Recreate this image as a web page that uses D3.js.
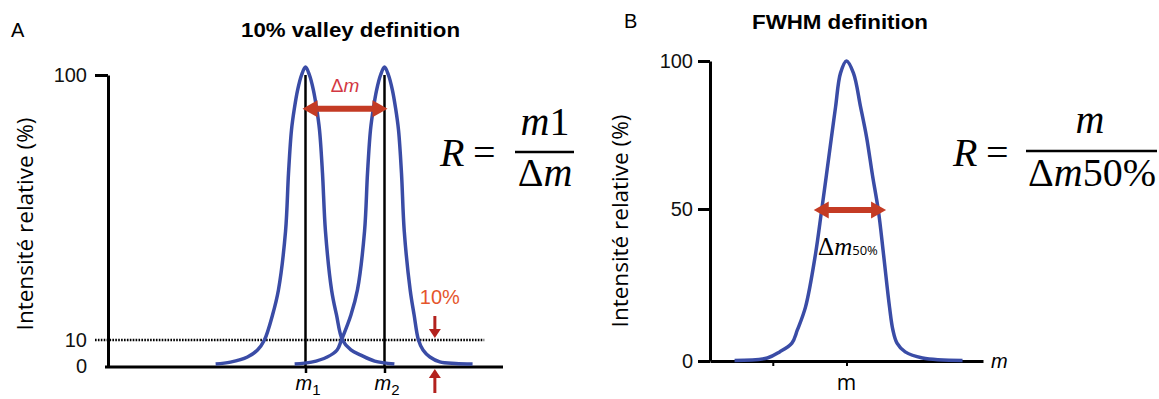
<!DOCTYPE html>
<html><head><meta charset="utf-8">
<script src="https://cdn.jsdelivr.net/npm/d3@7"></script>
<style>body{margin:0;background:#fff} svg{display:block}</style>
</head><body>
<svg id="c" width="1159" height="399"></svg>
<script>
// ---------------- DATA ----------------
// Panel A: two neighbouring peaks (x in mass units, y in relative intensity %)
const peak1 = [[5.45,1.1],[6.2,1.8],[7.06,3.7],[7.57,6.3],[7.92,10],[8.33,18.5],[8.63,27],[8.99,47],[9.14,66.7],[9.29,81.3],[9.44,88.8],[9.6,94.9],[9.8,100],[10,102.7],[10.2,100],[10.4,94.9],[10.56,88.8],[10.71,81.3],[10.86,66.7],[11.01,47],[11.32,27],[11.57,18.5],[11.87,10],[12.3,6.3],[12.8,4.4],[13.5,2.2],[14.5,1.1]];
const peak2 = [[9.45,1.1],[10.3,1.8],[11.1,3.7],[11.6,6.3],[11.82,10],[12.3,18.5],[12.63,27],[12.99,47],[13.14,66.7],[13.29,81.3],[13.44,88.8],[13.6,94.9],[13.8,100],[14,102.7],[14.2,100],[14.4,94.9],[14.56,88.8],[14.71,81.3],[14.86,66.7],[15.0,47],[15.3,27],[15.5,18.5],[15.72,10],[15.95,6.3],[16.3,3.7],[16.8,1.9],[17.6,1.3],[18.46,1.1]];
const massesA = [10, 14];
const massSubs = ["1", "2"];
const yTicksA = [0, 10, 100];
const valleyLevel = 10;
// Panel B: single peak
const peakB = [[1.8,0.2],[4.2,1.0],[5.1,3.0],[6.0,5.9],[6.4,10.2],[7.0,17.8],[7.73,35.2],[8.17,49.3],[8.53,61.5],[8.9,74.3],[9.2,84.5],[9.56,95.9],[10,100],[10.51,95.9],[11.03,84.5],[11.47,74.3],[11.9,61.5],[12.34,49.3],[12.71,35.2],[13.15,17.8],[13.4,10.2],[13.7,5.9],[14.3,3.0],[15.57,1.0],[18.5,0.2]];
const yTicksB = [0, 50, 100];
const xTicksB = [4.6, 10];
const centerB = 10;
const halfLevel = 50;

// ---------------- DRAW ----------------
const svg = d3.select("#c");
const BLUE = "#3a4ca6", RED = "#c43b24", DARKRED = "#b3221e";

function dblArrow(g, x1, x2, y, color, shaft, headL, headH) {
  const s = shaft / 2, h = headH / 2;
  const p = `M${x1},${y} L${x1+headL},${y-h} L${x1+headL},${y-s} L${x2-headL},${y-s} L${x2-headL},${y-h} L${x2},${y} L${x2-headL},${y+h} L${x2-headL},${y+s} L${x1+headL},${y+s} L${x1+headL},${y+h} Z`;
  g.append("path").attr("d", p).attr("fill", color);
}
function vArrow(g, x, yTail, yHead, color) {
  const dir = yHead > yTail ? 1 : -1;
  const hl = 9, hw = 6;
  g.append("line").attr("x1", x).attr("x2", x).attr("y1", yTail).attr("y2", yHead - dir*hl)
    .attr("stroke", color).attr("stroke-width", 3);
  g.append("path").attr("d", `M${x-hw},${yHead-dir*hl} L${x+hw},${yHead-dir*hl} L${x},${yHead} Z`).attr("fill", color);
}

// ===== Panel A =====
const xA = d3.scaleLinear().domain([0, 20]).range([108, 503]);
const yA = d3.scaleLinear().domain([0, 10, 100]).range([367, 340, 75]);
const gA = svg.append("g");

gA.append("text").attr("x", 11).attr("y", 37).attr("font-family", "Liberation Sans, Arial").attr("font-size", 20).text("A");
gA.append("text").attr("x", 241).attr("y", 37).attr("font-family", "Liberation Sans, Arial")
  .attr("font-weight", "bold").attr("font-size", 20).attr("textLength", 219).attr("lengthAdjust", "spacingAndGlyphs").text("10% valley definition");

// y axis
const axA = gA.append("g").attr("transform", `translate(${xA(0)},0)`)
  .call(d3.axisLeft(yA).tickValues(yTicksA).tickSize(13).tickSizeOuter(0).tickFormat(d3.format("d")));
axA.select(".domain").attr("stroke", "#000").attr("stroke-width", 3);
axA.selectAll(".tick line").attr("stroke", "#000").attr("stroke-width", 3).attr("display", d => d === 100 ? null : "none");
axA.selectAll(".tick text").attr("font-family", "Liberation Sans, Arial").attr("font-size", 20).attr("fill", "#111")
  .attr("x", -21).attr("dy", d => d === 0 ? "0.25em" : "0.32em");

// x axis
const axAx = gA.append("g").attr("transform", `translate(0,${yA(0)})`)
  .call(d3.axisBottom(xA).tickValues(massesA).tickSize(6).tickSizeOuter(0).tickFormat(""));
axAx.select(".domain").attr("stroke", "#000").attr("stroke-width", 3).attr("d", `M${xA(0)-3},0H${xA(20)}`);
axAx.selectAll(".tick line").attr("stroke", "#000").attr("stroke-width", 2.5);
massesA.forEach((m, i) => {
  const t = gA.append("text").attr("x", xA(m) - 10).attr("y", 390).attr("font-family", "Liberation Sans, Arial")
    .attr("font-size", 20).attr("font-style", "italic").text("m");
  t.append("tspan").attr("dy", 5).attr("font-size", 15).attr("font-style", "normal").text(massSubs[i]);
});

// dotted 10% line
gA.append("line").attr("x1", xA(0) - 13).attr("x2", xA(19.05)).attr("y1", yA(valleyLevel)).attr("y2", yA(valleyLevel))
  .attr("stroke", "#000").attr("stroke-width", 2.5).attr("stroke-dasharray", "1.6,1.3");

// vertical lines at m1, m2
massesA.forEach(m => {
  gA.append("line").attr("x1", xA(m)).attr("x2", xA(m)).attr("y1", yA(0)).attr("y2", yA(100))
    .attr("stroke", "#000").attr("stroke-width", 2.5);
});

// peaks
const lineA = d3.line().x(d => xA(d[0])).y(d => yA(d[1])).curve(d3.curveCatmullRom.alpha(0.5));
[peak1, peak2].forEach(p => gA.append("path").attr("d", lineA(p)).attr("fill", "none").attr("stroke", BLUE).attr("stroke-width", 3.5));

// delta m arrow
dblArrow(gA, xA(massesA[0]) - 3, xA(massesA[1]) + 3, yA(88.5), RED, 6, 15, 17);
const dm = gA.append("text").attr("x", (xA(massesA[0]) + xA(massesA[1])) / 2).attr("y", 92).attr("text-anchor", "middle")
  .attr("font-family", "Liberation Sans, Arial").attr("font-size", 19).attr("fill", "#d33843");
dm.append("tspan").text("Δ");
dm.append("tspan").attr("font-style", "italic").text("m");

// 10% annotation
const ax10 = xA(16.55);
gA.append("text").attr("x", ax10 + 5).attr("y", 304).attr("text-anchor", "middle").attr("font-family", "Liberation Sans, Arial")
  .attr("font-size", 20).attr("fill", "#e5552c").text("10%");
vArrow(gA, ax10, 316, yA(valleyLevel) - 2, DARKRED);
vArrow(gA, ax10, 393, yA(0) + 2, DARKRED);

// formula A
const fA = gA.append("g").attr("font-family", "Liberation Serif, Times New Roman, serif").attr("font-size", 40);
fA.append("text").attr("x", 440).attr("y", 166).attr("font-style", "italic").text("R");
fA.append("text").attr("x", 473).attr("y", 166).text("=");
fA.append("line").attr("x1", 515).attr("x2", 574).attr("y1", 152).attr("y2", 152).attr("stroke", "#000").attr("stroke-width", 2.5);
const nA = fA.append("text").attr("x", 545).attr("y", 135).attr("text-anchor", "middle");
nA.append("tspan").attr("font-style", "italic").text("m");
nA.append("tspan").text("1");
const dA = fA.append("text").attr("x", 545).attr("y", 186).attr("text-anchor", "middle");
dA.append("tspan").text("Δ");
dA.append("tspan").attr("font-style", "italic").text("m");

// y label A
gA.append("text").attr("transform", "translate(33,224) rotate(-90)").attr("text-anchor", "middle")
  .attr("font-family", "Open Sans, sans-serif").attr("font-size", 22.5).text("Intensité relative (%)");

// ===== Panel B =====
const xB = d3.scaleLinear().domain([0, 20]).range([710, 983]);
const yB = d3.scaleLinear().domain([0, 50, 100]).range([361, 209, 61]);
const gB = svg.append("g");
gB.append("text").attr("x", 624).attr("y", 28).attr("font-family", "Liberation Sans, Arial").attr("font-size", 20).text("B");
gB.append("text").attr("x", 752).attr("y", 29).attr("font-family", "Liberation Sans, Arial")
  .attr("font-weight", "bold").attr("font-size", 20).attr("textLength", 176).attr("lengthAdjust", "spacingAndGlyphs").text("FWHM definition");

const axB = gB.append("g").attr("transform", `translate(${xB(0)},0)`)
  .call(d3.axisLeft(yB).tickValues(yTicksB).tickSize(12).tickSizeOuter(0).tickFormat(d3.format("d")));
axB.select(".domain").attr("stroke", "#000").attr("stroke-width", 3);
axB.selectAll(".tick line").attr("stroke", "#000").attr("stroke-width", 3);
axB.selectAll(".tick text").attr("font-family", "Liberation Sans, Arial").attr("font-size", 20).attr("fill", "#111").attr("x", -17);

const axBx = gB.append("g").attr("transform", `translate(0,${yB(0)})`)
  .call(d3.axisBottom(xB).tickValues(xTicksB).tickSize(5).tickSizeOuter(0).tickFormat(""));
axBx.select(".domain").attr("stroke", "#000").attr("stroke-width", 3);
axBx.selectAll(".tick line").attr("stroke", "#000").attr("stroke-width", 2);
gB.append("text").attr("x", xB(20) + 8).attr("y", yB(0) + 7).attr("font-family", "Liberation Sans, Arial")
  .attr("font-size", 20).attr("font-style", "italic").text("m");
gB.append("text").attr("x", xB(centerB)).attr("y", 390).attr("text-anchor", "middle").attr("font-family", "Open Sans, sans-serif")
  .attr("font-size", 21).text("m");

const lineB = d3.line().x(d => xB(d[0])).y(d => yB(d[1])).curve(d3.curveCatmullRom.alpha(0.5));
gB.append("path").attr("d", lineB(peakB)).attr("fill", "none").attr("stroke", BLUE).attr("stroke-width", 3.5);

dblArrow(gB, xB(7.6), xB(12.9), yB(halfLevel) + 1, RED, 6, 15, 17);
const dB = gB.append("text").attr("x", 848).attr("y", 255).attr("text-anchor", "middle").attr("font-family", "Liberation Serif, serif").attr("font-size", 25);
dB.append("tspan").text("Δ");
dB.append("tspan").attr("font-style", "italic").text("m");
dB.append("tspan").attr("font-family", "Open Sans, sans-serif").attr("font-size", 13).text("50%");

const fB = gB.append("g").attr("font-family", "Liberation Serif, Times New Roman, serif").attr("font-size", 40);
fB.append("text").attr("x", 953).attr("y", 166).attr("font-style", "italic").text("R");
fB.append("text").attr("x", 986).attr("y", 166).text("=");
fB.append("line").attr("x1", 1026).attr("x2", 1157).attr("y1", 151).attr("y2", 151).attr("stroke", "#000").attr("stroke-width", 2.5);
fB.append("text").attr("x", 1090).attr("y", 133).attr("text-anchor", "middle").attr("font-style", "italic").text("m");
const dB2 = fB.append("text").attr("x", 1092).attr("y", 186).attr("text-anchor", "middle");
dB2.append("tspan").text("Δ");
dB2.append("tspan").attr("font-style", "italic").text("m");
dB2.append("tspan").text("50%");

gB.append("text").attr("transform", "translate(628,221) rotate(-90)").attr("text-anchor", "middle")
  .attr("font-family", "Open Sans, sans-serif").attr("font-size", 22.5).text("Intensité relative (%)");
</script>
</body></html>
